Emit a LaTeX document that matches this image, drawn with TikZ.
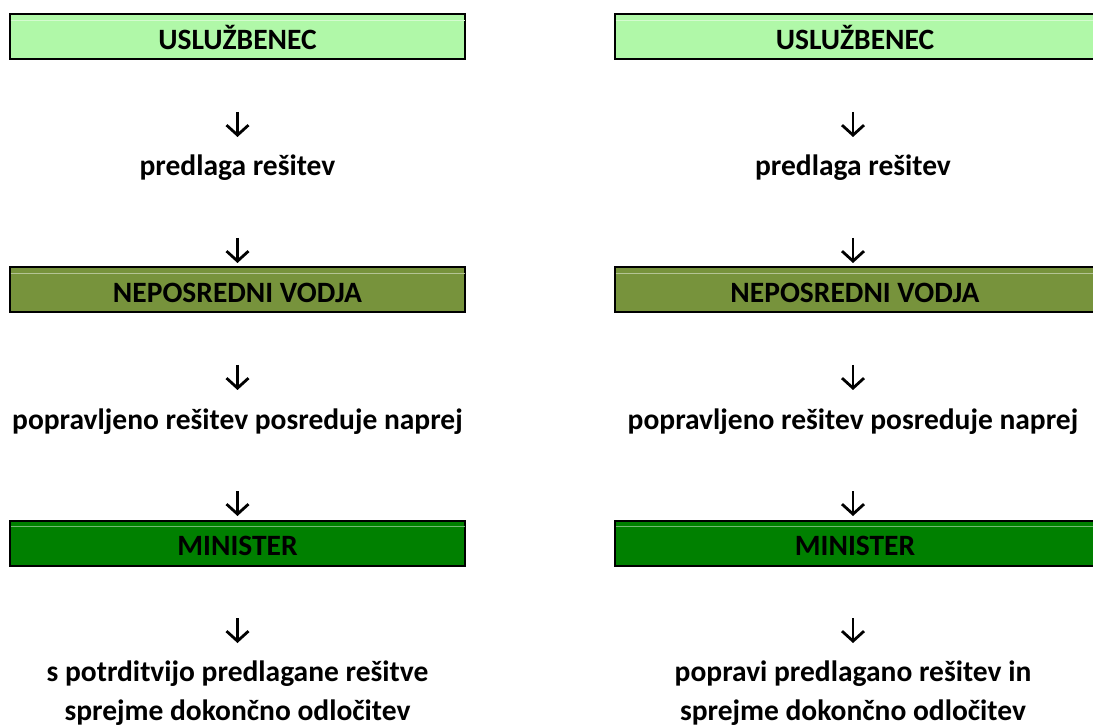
\documentclass[tikz,border=0pt]{standalone}
\usepackage{fontspec}
\setmainfont{Carlito}
\usetikzlibrary{arrows.meta}
\definecolor{lightgrn}{HTML}{B0F8A8}
\definecolor{olivegrn}{HTML}{77933C}
\definecolor{darkgrn}{HTML}{008000}
\tikzset{
  stagebox/.style={draw=black, line width=2pt, inner sep=0pt,
    minimum height=45pt, text height=25pt, text depth=0pt,
    font=\bfseries\fontsize{29.5}{34}\selectfont},
  leftbox/.style={stagebox, minimum width=455pt},
  rightbox/.style={stagebox, minimum width=480pt},
  steptext/.style={anchor=base, inner sep=0pt, align=center,
    font=\bfseries\fontsize{29.5}{38.5}\selectfont},
  flow/.style={line width=2.8pt, -{Straight Barb[length=10pt,width=22pt]}},
  sheen/.style={line width=0.7pt}
}
\begin{document}
\begin{tikzpicture}[x=1pt, y=-1pt]
  \useasboundingbox (0,0) rectangle (1093,727);

  % ---- left column ----
  \node[leftbox, fill=lightgrn] (L1) at (237.5,37) {USLUŽBENEC};
  \node[steptext] (Lt1) at (237.5,176) {predlaga rešitev};
  \node[leftbox, fill=olivegrn] (L2) at (237.5,290) {NEPOSREDNI VODJA};
  \node[steptext] (Lt2) at (237.5,429) {popravljeno rešitev posreduje naprej};
  \node[leftbox, fill=darkgrn] (L3) at (237.5,543) {MINISTER};
  % the base anchor of a two-line node sits on its last line
  \node[steptext] (Lt3) at (237.5,720) {s potrditvijo predlagane rešitve\\sprejme dokončno odločitev};

  % ---- right column ----
  \node[rightbox, fill=lightgrn] (R1) at (855,37) {USLUŽBENEC};
  \node[steptext] (Rt1) at (853,176) {predlaga rešitev};
  \node[rightbox, fill=olivegrn] (R2) at (855,290) {NEPOSREDNI VODJA};
  \node[steptext] (Rt2) at (853,429) {popravljeno rešitev posreduje naprej};
  \node[rightbox, fill=darkgrn] (R3) at (855,543) {MINISTER};
  \node[steptext] (Rt3) at (853,720) {popravi predlagano rešitev in\\sprejme dokončno odločitev};

  % faint highlight line near the top of each box
  \foreach \b/\c in {L1/lightgrn, L2/olivegrn, L3/darkgrn, R1/lightgrn, R2/olivegrn, R3/darkgrn}{
    \draw[sheen, \c!55!white] ([shift={(1.5pt,-7pt)}]\b.north west) -- ([shift={(-1.5pt,-7pt)}]\b.north east);
  }

  % ---- arrow end points ----
  \foreach \n/\x in {L/237.5, R/853}{
    \coordinate (\n a1) at (\x,112);  \coordinate (\n b1) at (\x,137);
    \coordinate (\n a2) at (\x,238);  \coordinate (\n b2) at (\x,263);
    \coordinate (\n a3) at (\x,365);  \coordinate (\n b3) at (\x,390);
    \coordinate (\n a4) at (\x,491);  \coordinate (\n b4) at (\x,516);
    \coordinate (\n a5) at (\x,618);  \coordinate (\n b5) at (\x,643);
  }
  \foreach \n in {L,R}{
    \foreach \k in {1,...,5}{
      \draw[flow] (\n a\k) -- (\n b\k);
    }
  }
\end{tikzpicture}
\end{document}
